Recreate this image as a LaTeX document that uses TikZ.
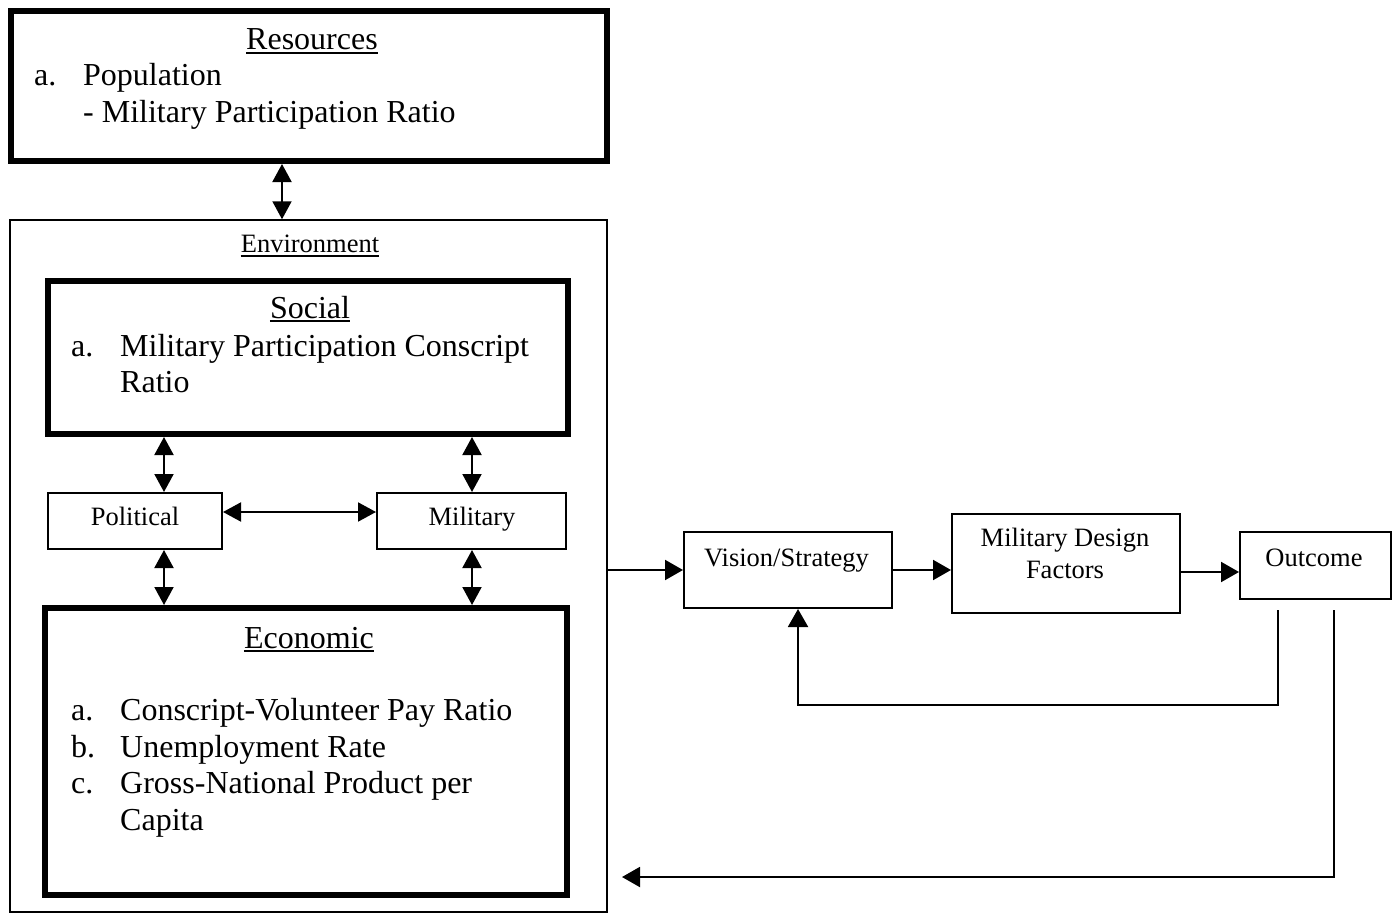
\documentclass[tikz,border=0pt]{standalone}
\usepackage{fontspec}
\setmainfont{Liberation Serif}
\usetikzlibrary{arrows.meta}
\begin{document}
\begin{tikzpicture}[x=1pt,y=-1pt,
  thickbox/.style={draw, line width=6pt, inner sep=0pt},
  thinbox/.style={draw, line width=2pt, inner sep=0pt},
  envbox/.style={draw, line width=1.5pt, inner sep=0pt},
  bigtxt/.style={inner sep=0pt, font=\fontsize{32}{37}\selectfont},
  smalltxt/.style={inner sep=0pt, font=\fontsize{26.5}{32}\selectfont},
  envtxt/.style={inner sep=0pt, font=\fontsize{26.5}{30}\selectfont},
  arr/.style={line width=2pt, -{Triangle[length=18pt,width=20pt]}},
  darr/.style={line width=2pt, {Triangle[length=18pt,width=19pt]}-{Triangle[length=18pt,width=19pt]}},
  uline/.style={line width=2pt}]
\useasboundingbox (0,0) rectangle (1397,915);
\fill[white] (0,0) rectangle (1397,915);

% ---- boxes of the left column
\node[thickbox, minimum width=596pt, minimum height=150pt] (res) at (309,86) {};
\node[envbox, minimum width=597pt, minimum height=692pt] (env) at (308.5,566) {};
\node[thickbox, minimum width=520pt, minimum height=153pt] (soc) at (308,357.5) {};
\node[thickbox, minimum width=522pt, minimum height=287pt] (eco) at (306,751.5) {};
\node[thinbox, minimum width=174pt, minimum height=56pt] (pol) at (135,521) {};
\node[thinbox, minimum width=189pt, minimum height=56pt] (mil) at (471.5,521) {};

% ---- boxes of the right chain
\node[thinbox, minimum width=208pt, minimum height=76pt] (vis) at (788,570) {};
\node[thinbox, minimum width=228pt, minimum height=99pt] (mdf) at (1066,563.5) {};
\node[thinbox, minimum width=151pt, minimum height=67pt] (out) at (1315.5,565.5) {};

% ---- texts: Resources
\node[bigtxt, anchor=base] (resT) at (312,50) {Resources};
\draw[uline] ([yshift=-3pt]resT.base west) -- ([yshift=-3pt]resT.base east);
\node[bigtxt, anchor=base west] (resA) at (34,86) {a.};
\node[bigtxt, anchor=base west] (resA1) at (83,86) {Population};
\node[bigtxt, anchor=base west] (resA2) at (83,123) {- Military Participation Ratio};

% ---- Environment
\node[envtxt, anchor=base] (envT) at (310,252) {Environment};
\draw[uline, line width=1.5pt] ([yshift=-4pt]envT.base west) -- ([yshift=-4pt]envT.base east);

% ---- Social
\node[bigtxt, anchor=base] (socT) at (310,318) {Social};
\draw[uline] ([yshift=-3pt]socT.base west) -- ([yshift=-3pt]socT.base east);
\node[bigtxt, anchor=base west] (socA) at (71,356) {a.};
\node[bigtxt, anchor=base west] (socA1) at (120,356) {Military Participation Conscript};
\node[bigtxt, anchor=base west] (socA2) at (120,392) {Ratio};

% ---- Political / Military
\node[smalltxt, anchor=base] (polT) at (135,525) {Political};
\node[smalltxt, anchor=base] (milT) at (472,525) {Military};

% ---- Economic
\node[bigtxt, anchor=base] (ecoT) at (309,648) {Economic};
\draw[uline] ([yshift=-3pt]ecoT.base west) -- ([yshift=-3pt]ecoT.base east);
\node[bigtxt, anchor=base west] (ecoA) at (71,720) {a.};
\node[bigtxt, anchor=base west] (ecoA1) at (120,720) {Conscript-Volunteer Pay Ratio};
\node[bigtxt, anchor=base west] (ecoB) at (71,757) {b.};
\node[bigtxt, anchor=base west] (ecoB1) at (120,757) {Unemployment Rate};
\node[bigtxt, anchor=base west] (ecoC) at (71,793) {c.};
\node[bigtxt, anchor=base west] (ecoC1) at (120,793) {Gross-National Product per};
\node[bigtxt, anchor=base west] (ecoC2) at (120,830) {Capita};

% ---- right chain texts
\node[smalltxt, anchor=base] (visT) at (786.5,566) {Vision/Strategy};
\node[smalltxt, anchor=base] (mdfT1) at (1065,546) {Military Design};
\node[smalltxt, anchor=base] (mdfT2) at (1065,578) {Factors};
\node[smalltxt, anchor=base] (outT) at (1314,566) {Outcome};

% ---- guide coordinates for connectors
\coordinate (xr) at (282,0);
\coordinate (xl) at (164,0);
\coordinate (xm) at (472,0);
\coordinate (ypm) at (0,512);
\coordinate (ymo) at (0,572);
\coordinate (fbA) at (1278,610);
\coordinate (fbAc) at (798,705);
\coordinate (fbB) at (1334,610);
\coordinate (fbBc) at (622,877);

% ---- connectors in the left column
\draw[darr] (res.south -| xr) -- (env.north -| xr);
\draw[darr] (soc.south -| xl) -- (pol.north -| xl);
\draw[darr] (soc.south -| xm) -- (mil.north -| xm);
\draw[darr] (pol.south -| xl) -- (eco.north -| xl);
\draw[darr] (mil.south -| xm) -- (eco.north -| xm);
\draw[darr] (pol.east |- ypm) -- (mil.west |- ypm);

% ---- connectors of the chain
\draw[arr] (env.east |- vis.west) -- (vis.west);
\draw[arr] (vis.east) -- (mdf.west |- vis.east);
\draw[arr] (mdf.east |- ymo) -- (out.west |- ymo);

% ---- feedback loops
\draw[arr] (fbA) |- (fbAc) -- (vis.south -| fbAc);
\draw[arr] (fbB) |- (fbBc);
\end{tikzpicture}
\end{document}
